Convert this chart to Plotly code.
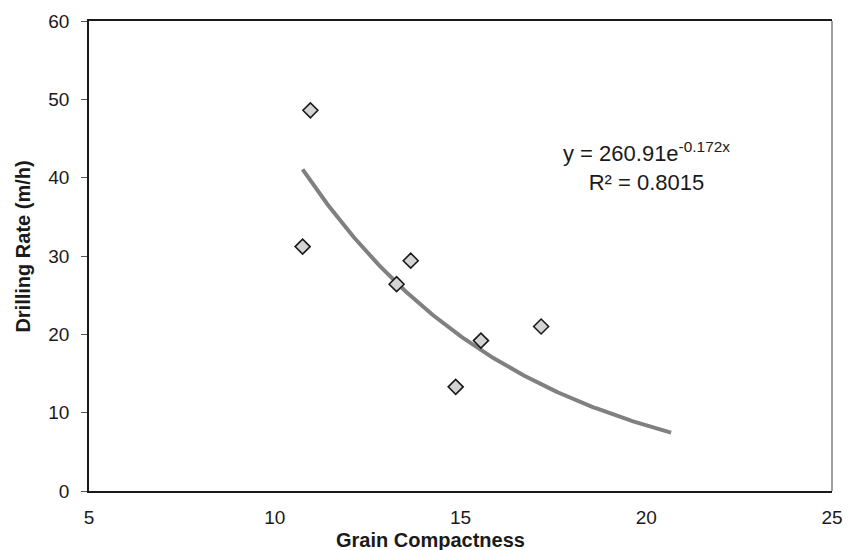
import numpy as np
import plotly.graph_objects as go

# Data
grain_compactness = [10.96, 10.75, 13.66, 13.28, 15.55, 14.87, 17.17]
drilling_rate = [48.6, 31.2, 29.4, 26.4, 19.2, 13.3, 21.0]

# Exponential trendline as printed on the chart: y = 260.91 e^(-0.172x)
trend_a = 260.91
trend_b = -0.172
trend_x_range = [10.75, 20.67]

x_ticks = [5, 10, 15, 20, 25]
y_ticks = [0, 10, 20, 30, 40, 50, 60]

FONT = "Liberation Sans, Arial, sans-serif"

tx = np.linspace(trend_x_range[0], trend_x_range[1], 200)
ty = trend_a * np.exp(trend_b * tx)

fig = go.Figure()
fig.add_trace(go.Scatter(
    x=tx, y=ty, mode="lines",
    line=dict(color="#808080", width=4),
    showlegend=False, hoverinfo="skip",
))
fig.add_trace(go.Scatter(
    x=grain_compactness, y=drilling_rate, mode="markers",
    marker=dict(symbol="diamond", size=11.5, color="#D4D4D4",
                line=dict(color="#1a1a1a", width=1.6)),
    showlegend=False,
))

fig.add_annotation(
    x=20.0, y=41.4, xref="x", yref="y",
    text="y = 260.91e<sup>-0.172x</sup><br>R² = 0.8015",
    showarrow=False, align="center",
    font=dict(family=FONT, size=22, color="#1a1a1a"),
)

# axis titles
fig.add_annotation(
    x=0.459, y=-0.104, xref="paper", yref="paper",
    xanchor="center", yanchor="middle", showarrow=False,
    text="<b>Grain Compactness</b>",
    font=dict(family=FONT, size=20, color="#1a1a1a"),
)
fig.add_annotation(
    x=-0.0888, y=0.52, xref="paper", yref="paper",
    xanchor="center", yanchor="middle", showarrow=False, textangle=-90,
    text="<b>Drilling Rate (m/h)</b>",
    font=dict(family=FONT, size=20, color="#1a1a1a"),
)

# right border in grey
fig.add_shape(type="line", xref="paper", yref="paper", x0=1, x1=1, y0=0, y1=1,
              line=dict(color="#808080", width=1.5))

fig.update_layout(
    width=850, height=542,
    margin=dict(l=81, r=26, t=13, b=59, autoexpand=False),
    paper_bgcolor="white", plot_bgcolor="white",
    font=dict(family=FONT, size=19, color="#1a1a1a"),
    xaxis=dict(
        range=[5, 25], tickvals=x_ticks, showgrid=False, zeroline=False,
        showline=True, linecolor="#1a1a1a", linewidth=1.5, mirror=True,
        ticks="", ticklabelstandoff=8, automargin=False,
    ),
    yaxis=dict(
        range=[0, 60], tickvals=y_ticks, showgrid=False, zeroline=False,
        showline=True, linecolor="#1a1a1a", linewidth=1.5,
        ticks="outside", ticklen=6, tickcolor="#555555", tickwidth=1,
        ticklabelstandoff=8, automargin=False,
    ),
)

fig.write_html("out.html")
